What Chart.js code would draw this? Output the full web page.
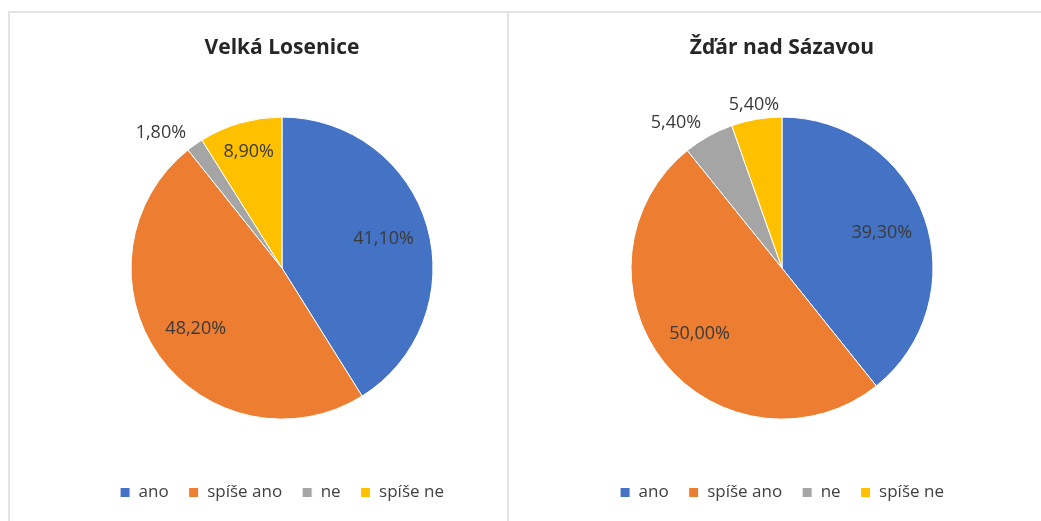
<!DOCTYPE html>
<html>
<head>
<meta charset="utf-8">
<script src="https://cdn.jsdelivr.net/npm/chart.js@4.4.1/dist/chart.umd.min.js"></script>
<style>
  body { margin: 0; background: #fff; width: 1041px; height: 521px; overflow: hidden; position: relative; }
  .box { position: absolute; top: 11px; height: 520px; border: 2px solid #e3e3e3; border-bottom: none; box-sizing: border-box; }
  .wrap { position: absolute; top: 11px; width: 500px; height: 510px; }
</style>
</head>
<body>
<div class="box" style="left:8px; width:501px;"></div>
<div class="box" style="left:507px; width:540px;"></div>
<div class="wrap" style="left:32px;"><canvas id="chartLeft"></canvas></div>
<div class="wrap" style="left:532px;"><canvas id="chartRight"></canvas></div>
<script>
const categories = ["ano", "spíše ano", "ne", "spíše ne"];
const velkaLosenice = [41.1, 48.2, 1.8, 8.9];
const zdarNadSazavou = [39.3, 50.0, 5.4, 5.4];
const colors = ["#4472C4", "#ED7D31", "#A5A5A5", "#FFC000"];

const FONT = "'Open Sans', 'Liberation Sans', sans-serif";

// percentage labels drawn from the arc elements
const pieLabels = {
  id: "pieLabels",
  afterDatasetsDraw(chart) {
    const ctx = chart.ctx;
    const meta = chart.getDatasetMeta(0);
    const vals = chart.data.datasets[0].data;
    ctx.save();
    ctx.font = "18px " + FONT;
    ctx.fillStyle = "#3a3a3a";
    ctx.textBaseline = "middle";
    meta.data.forEach((arc, i) => {
      const p = arc.getProps(["x", "y", "startAngle", "endAngle", "outerRadius"], true);
      const mid = (p.startAngle + p.endAngle) / 2;
      const c = Math.cos(mid), s = Math.sin(mid);
      let f = 0.7;
      ctx.textAlign = "center";
      if (vals[i] < 30) f = 0.8;
      if (vals[i] < 8) {
        // small slices: label outside the pie
        f = 1.1;
        if (c < -0.3) ctx.textAlign = "right";
        else if (c > 0.3) ctx.textAlign = "left";
      }
      const x = p.x + c * p.outerRadius * f;
      const y = p.y + s * p.outerRadius * f;
      ctx.fillText(vals[i].toFixed(2).replace(".", ",") + "%", x, y);
    });
    ctx.restore();
  }
};

function makePie(id, title, values) {
  return new Chart(document.getElementById(id), {
    type: "pie",
    data: {
      labels: categories,
      datasets: [{
        data: values,
        backgroundColor: colors,
        borderColor: "#ffffff",
        borderWidth: 1,
        radius: 151
      }]
    },
    options: {
      responsive: false,
      animation: false,
      layout: { padding: { bottom: 10 } },
      plugins: {
        title: {
          display: true,
          text: title,
          color: "#262626",
          font: { family: FONT, size: 21, weight: "bold" },
          padding: { top: 24, bottom: 12 }
        },
        legend: {
          position: "bottom",
          labels: {
            color: "#404040",
            font: { family: FONT, size: 17 },
            boxWidth: 10,
            boxHeight: 10,
            padding: 20
          }
        },
        tooltip: { enabled: false }
      }
    },
    plugins: [pieLabels]
  });
}

document.getElementById("chartLeft").width = 500;
document.getElementById("chartLeft").height = 510;
document.getElementById("chartRight").width = 500;
document.getElementById("chartRight").height = 510;

makePie("chartLeft", "Velká Losenice", velkaLosenice);
makePie("chartRight", "Žďár nad Sázavou", zdarNadSazavou);
</script>
</body>
</html>
